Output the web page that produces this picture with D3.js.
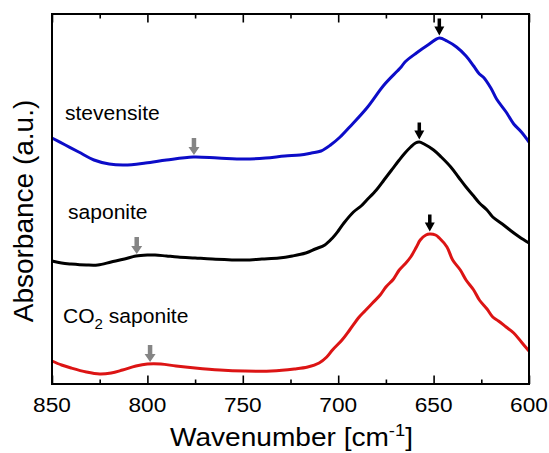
<!DOCTYPE html>
<html>
<head>
<meta charset="utf-8">
<script src="https://cdn.jsdelivr.net/npm/d3@7"></script>
<style>
  body { margin: 0; background: #fff; }
  text { font-family: "Liberation Sans", Arial, sans-serif; fill: #000; }
</style>
</head>
<body>
<div id="chart"></div>
<script>
// wavenumber axis
const majorTicks = [850, 800, 750, 700, 650, 600];
const minorTicks = [825, 775, 725, 675, 625];

// stevensite (blue)
const wnBlue  = [850, 843, 836, 828, 820, 812, 801, 790, 776, 763, 749, 738, 728, 720, 714, 709, 704, 699, 694, 685, 676, 669, 667, 665, 659, 653, 647, 643, 638, 633, 629, 626, 624, 620, 617, 612, 608, 604, 600];
const absBlue = [2.46, 2.39, 2.32, 2.24, 2.20, 2.19, 2.21, 2.24, 2.27, 2.26, 2.25, 2.26, 2.28, 2.29, 2.31, 2.33, 2.39, 2.47, 2.57, 2.76, 2.99, 3.13, 3.17, 3.22, 3.31, 3.39, 3.46, 3.43, 3.37, 3.28, 3.18, 3.10, 3.07, 2.96, 2.85, 2.72, 2.60, 2.52, 2.42];

// saponite (black)
const wnBlack  = [850, 845, 840, 832, 826, 819, 812, 806, 800, 796, 790, 784, 775, 766, 749, 740, 731, 724, 717, 712, 707, 703, 700, 697, 692, 688, 685, 680, 676, 672, 668, 665, 662, 659.5, 657.5, 655, 650, 646, 641, 637, 633, 629, 626, 622, 619, 614, 610, 605, 600];
const absBlack = [1.23, 1.21, 1.20, 1.19, 1.19, 1.22, 1.25, 1.28, 1.29, 1.29, 1.28, 1.27, 1.26, 1.25, 1.24, 1.25, 1.26, 1.28, 1.31, 1.35, 1.39, 1.46, 1.53, 1.61, 1.72, 1.78, 1.84, 1.94, 2.04, 2.14, 2.24, 2.31, 2.37, 2.41, 2.42, 2.40, 2.34, 2.27, 2.17, 2.07, 1.97, 1.88, 1.81, 1.74, 1.67, 1.60, 1.54, 1.47, 1.41];

// CO2 saponite (red)
const wnRed  = [850, 845, 840, 832, 825, 819, 813, 806, 800, 793, 785, 775, 762, 749, 735, 723, 716, 710, 706, 703, 698, 694, 689, 686, 682, 678, 675, 671, 668, 665, 662, 659, 657, 654, 652, 649, 647, 643, 640, 636, 633, 629, 626, 622, 619, 616, 612, 608, 604, 600];
const absRed = [0.23, 0.19, 0.16, 0.12, 0.10, 0.11, 0.14, 0.18, 0.20, 0.20, 0.18, 0.16, 0.14, 0.13, 0.13, 0.15, 0.17, 0.21, 0.27, 0.34, 0.44, 0.54, 0.67, 0.73, 0.81, 0.89, 0.97, 1.05, 1.14, 1.20, 1.27, 1.37, 1.44, 1.49, 1.50, 1.49, 1.46, 1.37, 1.24, 1.14, 1.04, 0.94, 0.84, 0.75, 0.67, 0.63, 0.57, 0.51, 0.42, 0.33];

// marked bands (arrows)
const seriesNames  = ["stevensite", "saponite", "CO2 saponite"];
const seriesColors = ["#0c0cc8", "#000000", "#dc1414"];
const peakArrowWn  = [647, 657.5, 652];
const weakArrowWn  = [775.6, 805.6, 798.6];

let W = 549, H = 453;
let svg = d3.select('#chart').append('svg')
    .attr('width', W).attr('height', H)
    .style('background', 'white');

let x = d3.scaleLinear().domain([850, 600]).range([52, 529]);
let y = d3.scaleLinear().domain([0, 3.7]).range([384, 14]);

let series = [
  {wn: wnBlue, abs: absBlue},
  {wn: wnBlack, abs: absBlack},
  {wn: wnRed, abs: absRed}
].map((s, i) => ({
  name: seriesNames[i],
  color: seriesColors[i],
  peak: peakArrowWn[i],
  weak: weakArrowWn[i],
  points: s.wn.map((w, j) => ({w: w, a: s.abs[j]}))
}));

// value on the curve at a given wavenumber, to sit the arrows on it
function valueAt(pts, w) {
  for (let i = 0; i < pts.length - 1; i++) {
    let p = pts[i], q = pts[i + 1];
    if (w <= p.w && w >= q.w) {
      let t = (p.w - w) / (p.w - q.w);
      return p.a + t * (q.a - p.a);
    }
  }
  return pts[pts.length - 1].a;
}

let line = d3.line()
    .x(d => x(d.w))
    .y(d => y(d.a))
    .curve(d3.curveCatmullRom.alpha(0.5));

svg.append('g').selectAll('path')
  .data(series)
  .join('path')
    .attr('d', d => line(d.points))
    .attr('fill', 'none')
    .attr('stroke', d => d.color)
    .attr('stroke-width', 3)
    .attr('stroke-linejoin', 'round');

// arrows pointing down, tip at (0,0)
function arrowPath(len, headLen, headW, shaftW) {
  return `M${-shaftW/2},${-len} L${shaftW/2},${-len} L${shaftW/2},${-headLen} L${headW/2},${-headLen} L0,0 L${-headW/2},${-headLen} L${-shaftW/2},${-headLen} Z`;
}

svg.append('g').selectAll('path')
  .data(series)
  .join('path')
    .attr('d', arrowPath(17, 9, 10, 3.5))
    .attr('fill', '#000')
    .attr('transform', d => `translate(${x(d.peak)},${y(valueAt(d.points, d.peak)) - 2.5})`);

svg.append('g').selectAll('path')
  .data(series)
  .join('path')
    .attr('d', arrowPath(17, 8, 11, 4.5))
    .attr('fill', '#858585')
    .attr('transform', d => `translate(${x(d.weak)},${y(valueAt(d.points, d.weak)) - 2})`);

// ticks, inward on top and bottom
const yb = y.range()[0], yt = y.range()[1];
function tickAxis(gen, ty) {
  let g = svg.append('g').attr('transform', `translate(0,${ty})`).call(gen);
  g.select('.domain').remove();
  g.selectAll('line').attr('stroke', '#000').attr('stroke-width', 1.6);
  return g;
}
tickAxis(d3.axisBottom(x).tickValues(majorTicks).tickSize(-8.5).tickFormat(''), yb);
tickAxis(d3.axisBottom(x).tickValues(minorTicks).tickSize(-4.5).tickFormat(''), yb);
tickAxis(d3.axisTop(x).tickValues(majorTicks).tickSize(-8.5).tickFormat(''), yt);
tickAxis(d3.axisTop(x).tickValues(minorTicks).tickSize(-4.5).tickFormat(''), yt);

svg.append('rect')
  .attr('x', x.range()[0]).attr('y', yt)
  .attr('width', x.range()[1] - x.range()[0])
  .attr('height', yb - yt)
  .attr('fill', 'none').attr('stroke', '#000').attr('stroke-width', 2);

// stretched text helper
function label(px, py, size, anchor, sx) {
  return svg.append('g')
    .attr('transform', `translate(${px},${py}) scale(${sx},1)`)
    .append('text')
    .attr('font-size', size)
    .attr('text-anchor', anchor);
}

majorTicks.forEach(t => {
  label(x(t), 412, 21, 'middle', 1.08).text(t);
});

let xt = label((x.range()[0] + x.range()[1]) / 2 + 1, 446, 26, 'middle', 1.08);
xt.append('tspan').text('Wavenumber [cm');
xt.append('tspan').attr('font-size', 17).attr('dy', -10).text('-1');
xt.append('tspan').attr('dy', 10).text(']');

svg.append('text')
  .attr('transform', 'translate(33,211) rotate(-90)')
  .attr('text-anchor', 'middle')
  .attr('font-size', 28)
  .text('Absorbance (a.u.)');

// series labels
label(65, 120, 19.5, 'start', 1.08).text('stevensite');
label(68, 219, 19.5, 'start', 1.08).text('saponite');
let co = label(63, 322.5, 19.5, 'start', 1.08);
co.append('tspan').text('CO');
co.append('tspan').attr('font-size', 14).attr('dy', 6).text('2');
co.append('tspan').attr('dy', -6).text(' saponite');
</script>
</body>
</html>
